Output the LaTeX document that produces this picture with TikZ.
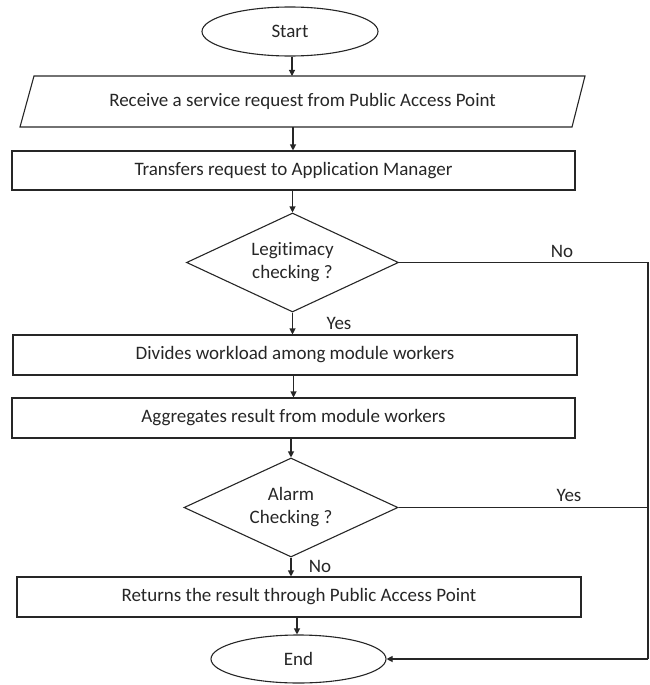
\documentclass[tikz,border=0pt]{standalone}
\usepackage{fontspec}
\setmainfont{Carlito}[Ligatures=NoCommon]
\usetikzlibrary{shapes.geometric,arrows.meta}
\begin{document}
\begin{tikzpicture}[x=1pt,y=-1pt,
  every node/.style={font=\fontsize{19}{23}\selectfont, text=black!85},
  line/.style={draw=black!85, line width=1.1pt},
  arr/.style={line, -{Triangle[length=6pt,width=6pt]}},
  term/.style={ellipse, line, inner sep=0pt, minimum width=176pt, minimum height=49pt},
  procbox/.style={rectangle, line, inner sep=0pt, minimum width=563pt, minimum height=39pt},
  decide/.style={diamond, line, inner sep=0pt, aspect=2.1, minimum width=212pt, minimum height=99pt, align=center, font=\fontsize{19}{23}\selectfont},
  iotext/.style={rectangle, inner sep=0pt, minimum width=551pt, minimum height=51pt},
  lbl/.style={inner sep=0pt, anchor=center}
]
\useasboundingbox (0,0) rectangle (650,685);
\node[term] (start) at (290,31.5) {Start};
\node[iotext] (recv) at (302.5,101.5) {Receive a service request from Public Access Point};
\draw[line] (20,127) -- (34,76) -- (585,76) -- (572,127) -- cycle;
\node[procbox] (trans) at (293.5,170.5) {Transfers request to Application Manager};
\node[decide] (legit) at (292.5,262.5) {Legitimacy\\checking ?};
\node[procbox, minimum width=564pt, minimum height=40pt] (divide) at (295,355) {Divides workload among module workers};
\node[procbox, minimum height=40pt] (aggr) at (293.5,418) {Aggregates result from module workers};
\node[decide, minimum width=214pt] (alarm) at (291,507.5) {Alarm\\Checking ?};
\node[procbox, minimum width=564pt, minimum height=40pt] (ret) at (299,597) {Returns the result through Public Access Point};
\node[term, minimum width=175pt, minimum height=48pt] (end) at (298.5,659) {End};
\coordinate (rail) at (648,262.5);
% labels
\node[lbl] (lno1) at (562,251) {No};
\node[lbl] (lyes1) at (339,323) {Yes};
\node[lbl] (lyes2) at (569,495) {Yes};
\node[lbl] (lno2) at (320,566) {No};
% connectors
\draw[arr] (start.south -| 292,0) -- (292,76);
\draw[arr] (recv.south -| 293,0) -- (trans.north -| 293,0);
\draw[arr] (trans.south -| legit.north) -- (legit.north);
\draw[arr] (legit.south) -- (divide.north -| legit.south);
\draw[arr] (divide.south -| aggr.north) -- (aggr.north);
\draw[arr] (aggr.south -| alarm.north) -- (alarm.north);
\draw[arr] (alarm.south) -- (ret.north -| alarm.south);
\draw[arr] (ret.south -| 297,0) -- (end.north -| 297,0);
\draw[line] (legit.east) -- (rail) -- (rail |- end.east);
\draw[arr] (rail |- end.east) -- (end.east);
\draw[line] (alarm.east) -- (alarm.east -| rail);
\end{tikzpicture}
\end{document}
